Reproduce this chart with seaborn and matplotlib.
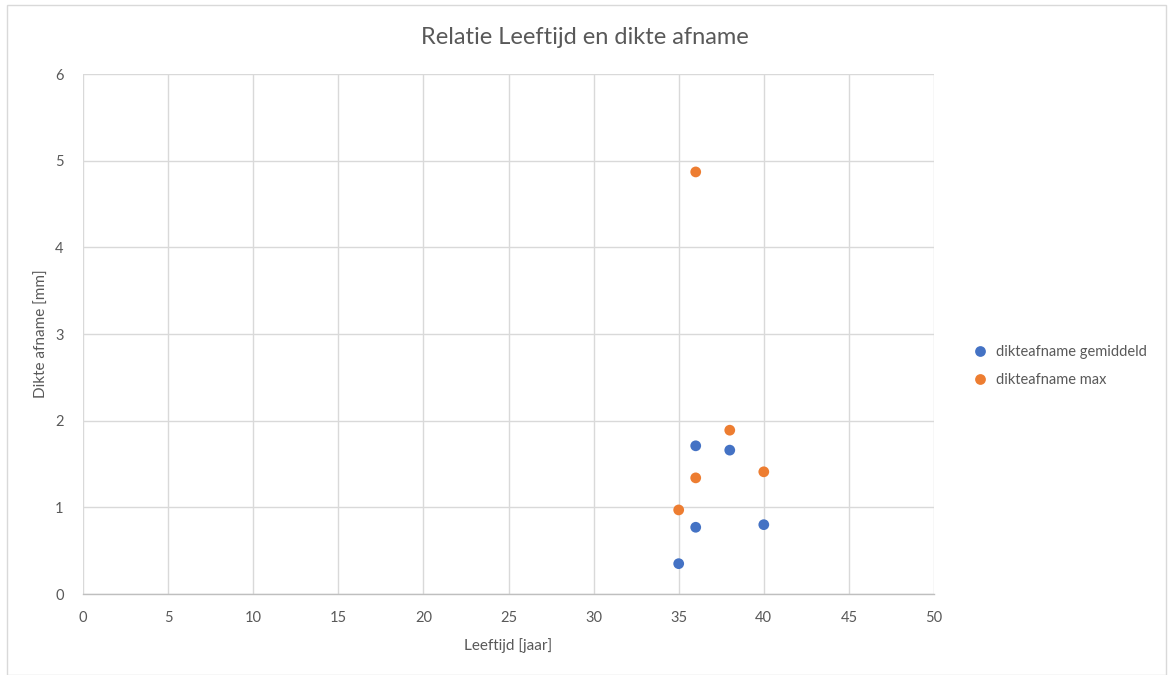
import matplotlib
matplotlib.use("Agg")
import matplotlib.pyplot as plt
import seaborn as sns
import pandas as pd
from matplotlib.patches import Rectangle

ages_avg = [35, 36, 36, 38, 40]
dikte_gemiddeld = [0.35, 0.77, 1.71, 1.66, 0.80]
ages_max = [35, 36, 36, 38, 40]
dikte_max = [0.97, 1.34, 4.87, 1.89, 1.41]
series_names = ["dikteafname gemiddeld", "dikteafname max"]
x_ticks = [0, 5, 10, 15, 20, 25, 30, 35, 40, 45, 50]
y_ticks = [0, 1, 2, 3, 4, 5, 6]

df = pd.concat([
    pd.DataFrame({"x": ages_avg, "y": dikte_gemiddeld, "serie": series_names[0]}),
    pd.DataFrame({"x": ages_max, "y": dikte_max, "serie": series_names[1]}),
])

sns.set_theme(style="white")
plt.rcParams["font.family"] = ["Lato", "DejaVu Sans"]
txt = "#595959"
grid = "#D9D9D9"

fig = plt.figure(figsize=(11.74, 6.75), dpi=100)
ax = fig.add_axes([83/1174, 1-594/675, (934-83)/1174, (594-74)/675])

sns.scatterplot(data=df, x="x", y="y", hue="serie",
                palette={series_names[0]: "#4472C4", series_names[1]: "#ED7D31"},
                s=60, edgecolor="none", ax=ax, legend=True, zorder=3)

ax.set_xlim(0, 50)
ax.set_ylim(0, 6)
ax.set_xticks(x_ticks)
ax.set_yticks(y_ticks)
ax.grid(True, color=grid, linewidth=1.0)
ax.set_axisbelow(True)
for side in ["top", "right", "left"]:
    ax.spines[side].set_visible(False)
ax.spines["bottom"].set_color("#BFBFBF")
ax.spines["bottom"].set_linewidth(1.0)
ax.tick_params(axis="both", length=0, colors=txt, labelsize=10.5)
ax.tick_params(axis="x", pad=12)
ax.tick_params(axis="y", pad=14)
ax.set_xlabel("Leeftijd [jaar]", color=txt, fontsize=11, labelpad=10)
ax.set_ylabel("Dikte afname [mm]", color=txt, fontsize=11, labelpad=4)

fig.text(585/1174, 1-37/675, "Relatie Leeftijd en dikte afname", ha="center", va="center",
         color=txt, fontsize=17)

leg = ax.legend(loc="center left", bbox_to_anchor=(960/1174, 1-366/675),
                bbox_transform=fig.transFigure, frameon=False, fontsize=10.5,
                handletextpad=0.1, labelspacing=1.0, markerscale=1.0, borderaxespad=0)
for t in leg.get_texts():
    t.set_color(txt)

fig.patches.append(Rectangle((7/1174, 0), (1166-7)/1174, 1-5/675, transform=fig.transFigure,
                             fill=False, edgecolor="#D9D9D9", linewidth=1.0))

fig.savefig("out.png", dpi=100)
